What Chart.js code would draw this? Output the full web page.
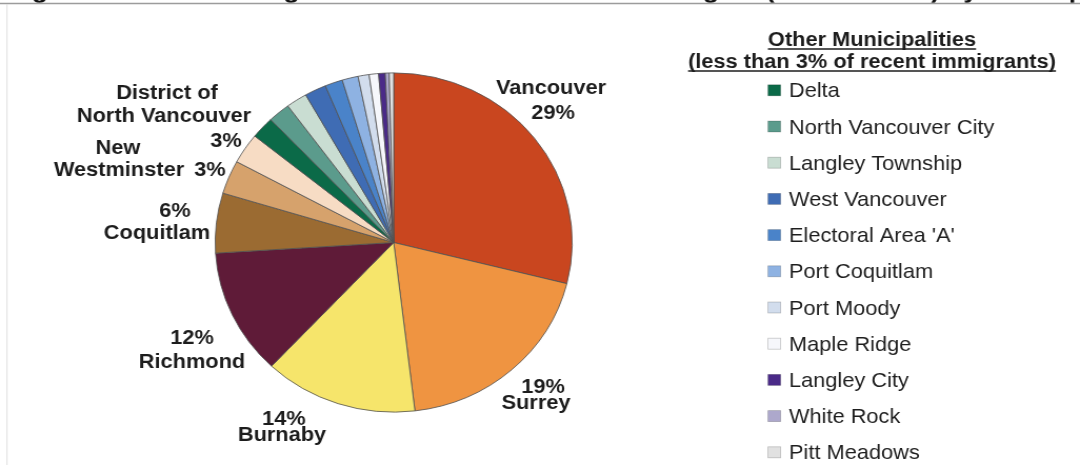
<!DOCTYPE html>
<html>
<head>
<meta charset="utf-8">
<script src="https://cdn.jsdelivr.net/npm/chart.js@4.4.0/dist/chart.umd.min.js"></script>
<style>
    html, body { margin: 0; padding: 0; background: #fff; overflow: hidden; }
    /* the original figure is slightly stretched horizontally */
    #stage { position: absolute; left: 0; top: 0; width: 1026px; height: 465px; transform: scaleX(1.05263); transform-origin: 0 0; }
    #chartBox { position: absolute; left: 0; top: 0; width: 1026px; height: 465px; }
</style>
</head>
<body>
<div id="stage"><div id="chartBox"><canvas id="immChart"></canvas></div></div>
<script>
const SX = 1080 / 1026;

// 최근 이민자 비율 (%), 12시 방향부터 시계방향
const municipalities = [
    'Vancouver', 'Surrey', 'Burnaby', 'Richmond', 'Coquitlam',
    'New Westminster', 'District of North Vancouver',
    'Delta', 'North Vancouver City', 'Langley Township', 'West Vancouver',
    "Electoral Area 'A'", 'Port Coquitlam', 'Port Moody', 'Maple Ridge',
    'Langley City', 'White Rock', 'Pitt Meadows'
];
const shares = [
    28.9, 19.2, 13.9, 12.0, 5.7,
    3.2, 2.9,
    2.1, 2.0, 1.9, 1.95,
    1.6, 1.45, 1.0, 0.85,
    0.6, 0.35, 0.4
];
const sliceColors = [
    '#c9461f', '#ef9441', '#f6e56b', '#5f1b38', '#9b6b32',
    '#d6a26c', '#f7dcc4',
    '#0b6a48', '#5b9b8c', '#c9ddd2', '#3f6cb4',
    '#4a83c9', '#8eb2e2', '#d2dded', '#f6f7fb',
    '#4a2a88', '#ada8cc', '#e1e1e1'
];
const legendTitle = ['Other Municipalities', '(less than 3% of recent immigrants)'];
const firstLegendSlice = 7;
const pageTitle = 'Figure 3: Recent Immigrants to the Metro Vancouver Region (2001 to 2006) by Municipality, 2006';

// slice labels: [text, centre x, baseline y] ('%' = rounded share)
const labelSpots = [
    { i: 0, lines: [['Vancouver', 551, 94], ['%', 553, 119]] },
    { i: 1, lines: [['%', 543, 393], ['Surrey', 536, 409]] },
    { i: 2, lines: [['%', 284, 425], ['Burnaby', 282, 441]] },
    { i: 3, lines: [['%', 192, 344], ['Richmond', 192, 368]] },
    { i: 4, lines: [['%', 175, 217], ['Coquitlam', 157, 239]] },
    { i: 5, lines: [['New', 118, 154], ['Westminster', 119, 176], ['%', 210, 176]] },
    { i: 6, lines: [['District of', 167, 99], ['North Vancouver', 164, 122], ['%', 226, 147]] }
];

const FONT = '"Liberation Sans", Arial, sans-serif';

function pct(i) {
    return Math.round(shares[i]) + '%';
}

const framePlugin = {
    id: 'frame',
    beforeDraw(chart) {
        const ctx = chart.ctx;
        ctx.save();
        // page title, cut off above the frame (only descenders show)
        ctx.beginPath();
        ctx.rect(0, 0, 1026, 2.8);
        ctx.clip();
        ctx.fillStyle = '#111';
        ctx.font = 'bold 25px ' + FONT;
        ctx.textAlign = 'left';
        ctx.textBaseline = 'alphabetic';
        ctx.fillText(pageTitle, 8, -2.5);
        ctx.restore();

        ctx.save();
        ctx.strokeStyle = '#9c9c9c';
        ctx.lineWidth = 1.5;
        ctx.beginPath();
        ctx.moveTo(0, 3.5);
        ctx.lineTo(1026, 3.5);
        ctx.stroke();
        ctx.strokeStyle = '#dcdcdc';
        ctx.lineWidth = 1;
        ctx.beginPath();
        ctx.moveTo(7 / SX, 4);
        ctx.lineTo(7 / SX, 465);
        ctx.stroke();
        ctx.restore();
    }
};

const overlayPlugin = {
    id: 'overlay',
    afterDatasetsDraw(chart) {
        const ctx = chart.ctx;
        ctx.save();
        ctx.fillStyle = '#1c1c1c';
        ctx.font = 'bold 20.7px ' + FONT;
        ctx.textAlign = 'center';
        ctx.textBaseline = 'alphabetic';
        labelSpots.forEach(spot => {
            spot.lines.forEach(([txt, x, y]) => {
                ctx.fillText(txt === '%' ? pct(spot.i) : txt, x / SX, y);
            });
        });

        // legend heading, underlined
        const headBase = [46, 68];
        const cx = 872 / SX;
        ctx.strokeStyle = '#1c1c1c';
        ctx.lineWidth = 1.5;
        legendTitle.forEach((t, k) => {
            ctx.fillText(t, cx, headBase[k]);
            const w = ctx.measureText(t).width;
            ctx.beginPath();
            ctx.moveTo(cx - w / 2, headBase[k] + 3);
            ctx.lineTo(cx + w / 2, headBase[k] + 3);
            ctx.stroke();
        });

        // legend items
        ctx.font = '20.7px ' + FONT;
        ctx.textAlign = 'left';
        for (let i = firstLegendSlice; i < municipalities.length; i++) {
            const base = 97.3 + (i - firstLegendSlice) * 36.2;
            ctx.fillStyle = sliceColors[i];
            ctx.fillRect(768 / SX, base - 12.5, 12, 11);
            ctx.strokeStyle = 'rgba(0,0,0,0.22)';
            ctx.lineWidth = 0.8;
            ctx.strokeRect(768 / SX, base - 12.5, 12, 11);
            ctx.fillStyle = '#1e1e1e';
            ctx.fillText(municipalities[i], 789 / SX, base);
        }
        ctx.restore();
    }
};

new Chart(document.getElementById('immChart'), {
    type: 'pie',
    data: {
        labels: municipalities,
        datasets: [{
            data: shares,
            backgroundColor: sliceColors,
            borderColor: '#505050',
            borderWidth: 0.8
        }]
    },
    options: {
        responsive: true,
        maintainAspectRatio: false,
        animation: false,
        layout: {
            padding: { top: 72, bottom: 52, left: 204, right: 482 }
        },
        plugins: {
            legend: { display: false },
            tooltip: { enabled: false }
        }
    },
    plugins: [framePlugin, overlayPlugin]
});
</script>
</body>
</html>
